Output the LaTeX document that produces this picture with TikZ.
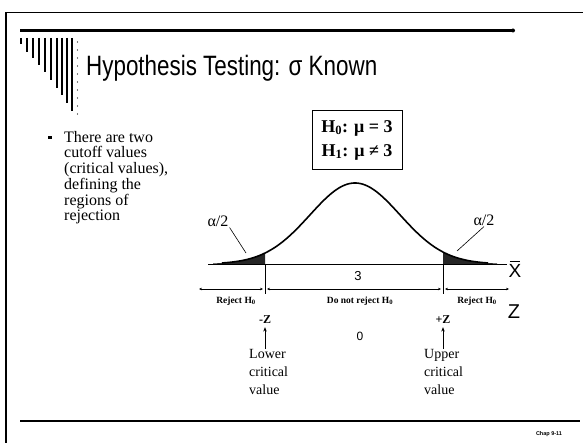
\documentclass[tikz,border=0pt]{standalone}
\usepackage{fontspec}
\setmainfont{Liberation Serif}
\newfontfamily\arialfont{Liberation Sans}
\newfontfamily\titlefont[FakeStretch=0.8]{Liberation Sans}
\usetikzlibrary{arrows.meta}

\begin{document}
\begin{tikzpicture}[x=1pt,y=-1pt,
    tail/.style={fill=black!85},
    zline/.style={{Stealth[length=3pt,width=2.6pt]}-{Stealth[length=3pt,width=2.6pt]}, line width=0.6pt},
    pointer/.style={-{Stealth[length=4.5pt,width=3.5pt]}, line width=0.9pt},
    lbl/.style={font=\bfseries\fontsize{9.5}{10}\selectfont, inner sep=1pt}]
    \useasboundingbox (0,0) rectangle (583,443);
    % Slide frame
    \draw[line width=1.6pt] (6,443) -- (6,12);
    \draw[line width=0.6pt] (6,12) -- (583,12);
    % Header rule
    \draw[line width=3pt] (20,30.5) -- (513,30.5);
    \fill (513,30.5) circle (2pt);
    % Bar icon
    \foreach \x/\y in {21/44, 27/52, 33/58, 39/65, 45/72, 51/80, 57/88, 62/95, 67/103, 72/111}
        \draw[line width=2.4pt] (\x,38) -- (\x,\y);
    \foreach \y in {42,50,...,114}
        \fill (77.5,\y) circle (0.6pt);
    % Title
    \node[inner sep=0pt, anchor=base west, font=\titlefont\fontsize{28}{32}\selectfont] (title) at (86,76) {Hypothesis Testing: σ Known};
    % Bullet text
    \fill (48,136) rectangle (51.5,139.5);
    \node[inner sep=0pt, anchor=north west, align=left, font=\fontsize{16}{15.7}\selectfont] (bullet) at (64,131) {There are two\\cutoff values\\(critical values),\\defining the\\regions of\\rejection};
    % Hypotheses
    \node[draw, line width=0.8pt, minimum width=90pt, minimum height=59pt, inner sep=0pt, align=center, font=\bfseries\fontsize{18}{24}\selectfont] (hyp) at (357,140) {H\textsubscript{0}: μ = 3\\H\textsubscript{1}: μ ≠ 3};
    % Rejection tails
    \fill[tail, domain=213:265, samples=30] (213,264) -- plot (\x,{264-81*exp(-((\x-355)/45)^2/2)}) -- (265,264) -- cycle;
    \fill[tail, domain=443:497, samples=30] (443,264) -- plot (\x,{264-81*exp(-((\x-355)/45)^2/2)}) -- (497,264) -- cycle;
    % Bell curve
    \draw[line width=1.6pt, domain=222:488, samples=120, smooth] plot (\x,{264-81*exp(-((\x-355)/45)^2/2)});
    % X axis
    \coordinate (xl) at (208,264);
    \coordinate (xr) at (507,264);
    \draw[line width=0.8pt] (xl) -- (xr);
    \node[inner sep=0pt, font=\arialfont\fontsize{19}{19}\selectfont] (xbar) at (515,271) {X};
    \draw[line width=0.8pt] ([xshift=1.5pt,yshift=2.5pt]xbar.north west) -- ([xshift=-1.5pt,yshift=2.5pt]xbar.north east);
    \node[font=\arialfont\fontsize{13}{13}\selectfont] (three) at (358,276) {3};
    % Critical values
    \coordinate (lc) at (265,264);
    \coordinate (lcb) at (265,294);
    \coordinate (uc) at (443,264);
    \coordinate (ucb) at (443,294);
    \draw[line width=0.8pt] (lc) -- (lcb);
    \draw[line width=0.8pt] (uc) -- (ucb);
    % Z axis
    \coordinate (zl) at (199,289);
    \coordinate (zl2) at (263,289);
    \coordinate (zm1) at (267,289);
    \coordinate (zm2) at (441,289);
    \coordinate (zr1) at (445,289);
    \coordinate (zr) at (509,289);
    \draw[zline] (zl) -- (zl2);
    \draw[zline] (zm1) -- (zm2);
    \draw[zline] (zr1) -- (zr);
    \node[lbl] (rejL) at (236,301) {Reject H\textsubscript{0}};
    \node[lbl] (keep) at (360,301) {Do not reject H\textsubscript{0}};
    \node[lbl] (rejR) at (477,301) {Reject H\textsubscript{0}};
    \node[font=\arialfont\fontsize{20}{20}\selectfont] (zlbl) at (514,312) {Z};
    \node[font=\bfseries\fontsize{12}{12}\selectfont, inner sep=1pt] (negz) at (265,320) {-Z};
    \node[font=\bfseries\fontsize{12}{12}\selectfont, inner sep=1pt] (posz) at (443,320) {+Z};
    \node[font=\arialfont\fontsize{12}{12}\selectfont] (zero) at (360,336) {0};
    % Alpha labels
    \node[font=\fontsize{16}{16}\selectfont, inner sep=1pt] (alphaL) at (218,221) {α/2};
    \node[font=\fontsize{16}{16}\selectfont, inner sep=1pt] (alphaR) at (484,220) {α/2};
    \coordinate (tailL) at (246,253);
    \coordinate (tailR) at (457,251);
    \draw[line width=0.6pt] (alphaL.south east) -- (tailL);
    \draw[line width=0.6pt] (alphaR.south) -- (tailR);
    % Critical value notes
    \node[inner sep=0pt, anchor=north west, align=left, font=\fontsize{14}{18}\selectfont] (lower) at (249,349) {Lower\\critical\\value};
    \node[inner sep=0pt, anchor=north west, align=left, font=\fontsize{14}{18}\selectfont] (upper) at (424,349) {Upper\\critical\\value};
    \draw[pointer] (negz.south |- lower.north) -- ([yshift=-2pt]negz.south);
    \draw[pointer] (posz.south |- upper.north) -- ([yshift=-2pt]posz.south);
    % Footer
    \draw[line width=1.5pt] (20,421) -- (580,421);
    \node[font=\arialfont\bfseries\fontsize{5.5}{6}\selectfont] (chap) at (549,434) {Chap 9-11};
\end{tikzpicture}
\end{document}
